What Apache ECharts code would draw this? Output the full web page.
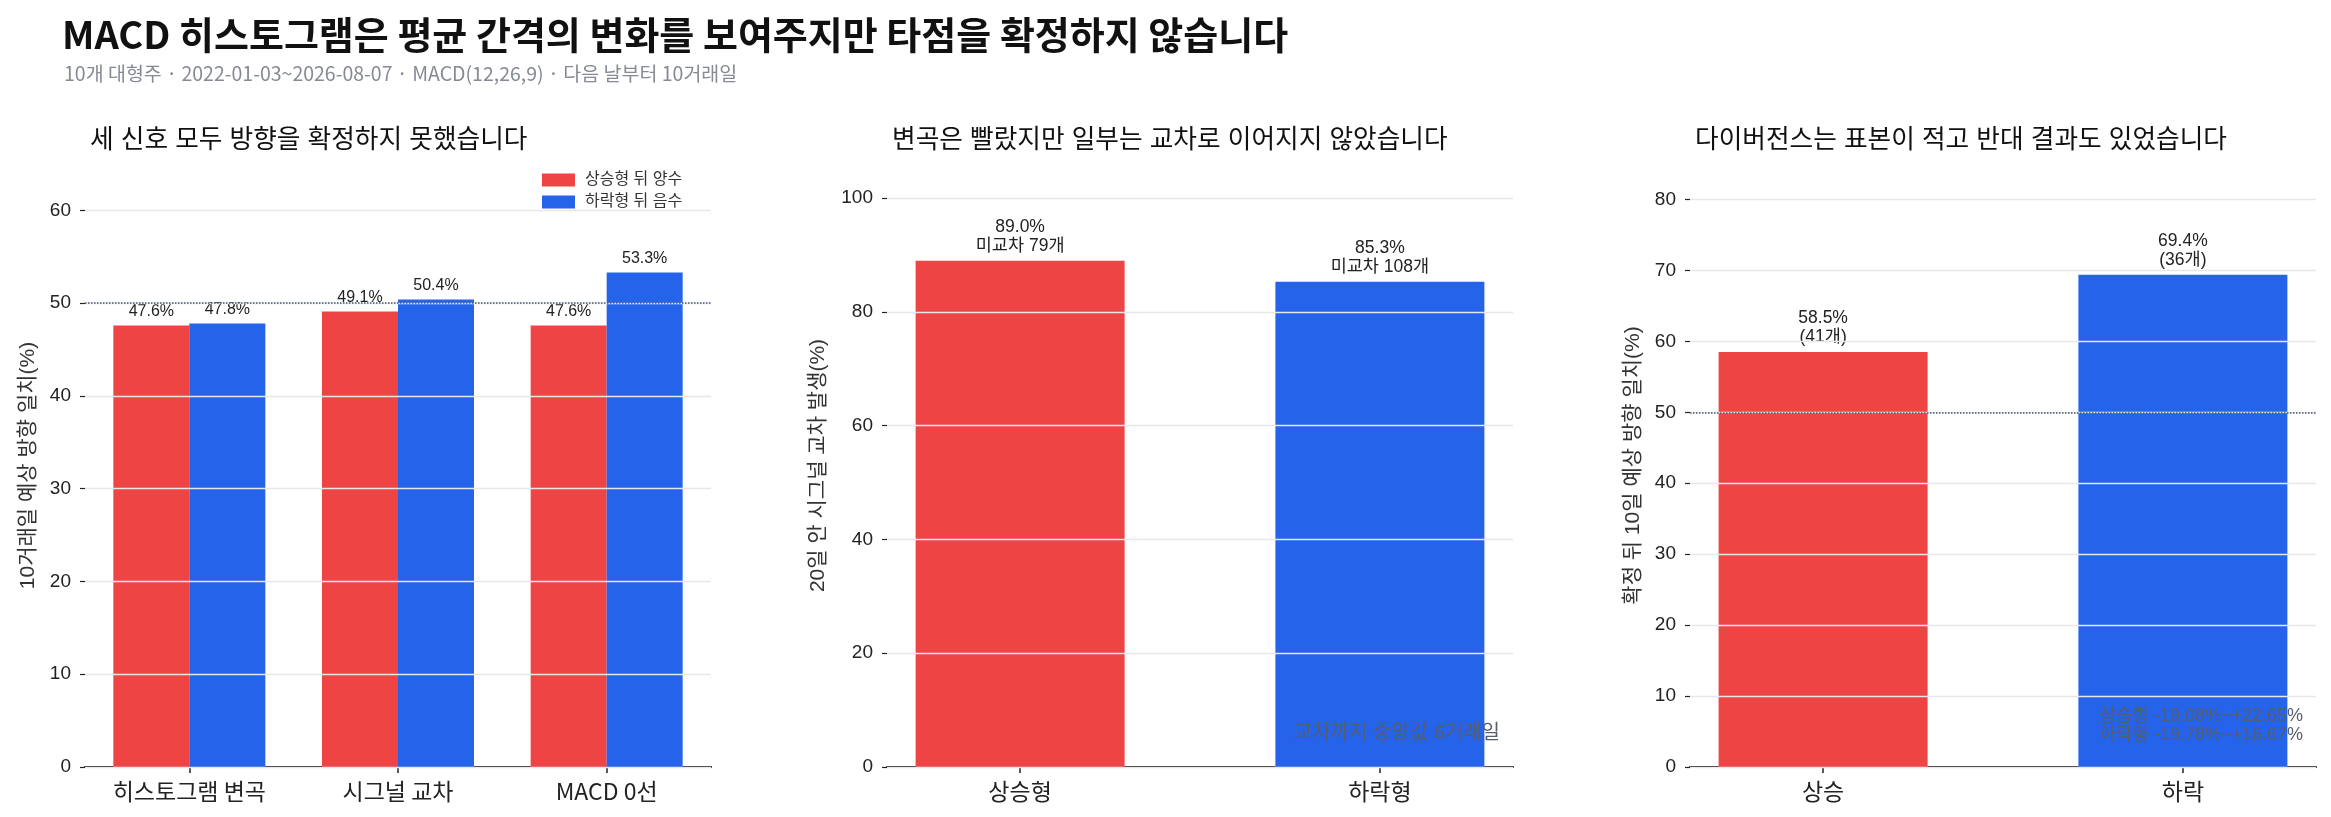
<!DOCTYPE html>
<html>
<head>
<meta charset="utf-8">
<script src="https://cdn.jsdelivr.net/npm/echarts@6/dist/echarts.min.js"></script>
<style>
html, body { margin: 0; padding: 0; background: #fff; }
#main { width: 2331px; height: 817px; }
</style>
</head>
<body>
<div id="main"></div>
<script>
// 패널 1: 신호별 10거래일 방향 일치율
var signalNames = ['히스토그램 변곡', '시그널 교차', 'MACD 0선'];
var upPositive = [47.6, 49.1, 47.6];
var downNegative = [47.8, 50.4, 53.3];

// 패널 2: 20일 안 시그널 교차 발생
var crossNames = ['상승형', '하락형'];
var crossRate = [89.0, 85.3];
var noCrossCount = [79, 108];

// 패널 3: 다이버전스 확정 뒤 10일
var divNames = ['상승', '하락'];
var divHitRate = [58.5, 69.4];
var divCount = [41, 36];

var ticks1 = [0, 10, 20, 30, 40, 50, 60];
var ticks2 = [0, 20, 40, 60, 80, 100];
var ticks3 = [0, 10, 20, 30, 40, 50, 60, 70, 80];

var RED = '#ef4444', BLUE = '#2563eb';
var FONT = "'Liberation Sans','Noto Sans CJK KR',sans-serif";
var NARROW = "'Liberation Sans Narrow','Noto Sans CJK KR',sans-serif";

var chart = echarts.init(document.getElementById('main'));

var panelLeft = [85, 887, 1690];
var panelW = 626;

function yAxisOf(idx, max, ticks, name, gap) {
    return {
        gridIndex: idx,
        type: 'value',
        min: 0,
        max: max,
        z: 3,
        name: name,
        nameLocation: 'middle',
        nameGap: gap,
        nameTextStyle: { fontFamily: FONT, fontSize: 21, color: '#333' },
        axisLine: { show: false, onZero: false },
        axisTick: { show: true, length: 5, customValues: ticks, lineStyle: { color: '#222', width: 1.2 } },
        axisLabel: { customValues: ticks, margin: 14, fontFamily: FONT, fontSize: 19, color: '#222' },
        splitLine: { show: true, lineStyle: { color: '#e6e6ec', width: 1.3 } }
    };
}

function valueXAxis(idx, names) {
    return {
        gridIndex: idx,
        type: 'value',
        min: -0.37,
        max: 1.37,
        axisLine: { show: true, onZero: false, lineStyle: { color: '#222', width: 2 } },
        axisTick: { show: true, length: 6, customValues: [0, 1], lineStyle: { color: '#222', width: 1.5 } },
        axisLabel: {
            customValues: [0, 1], margin: 13, fontFamily: NARROW, fontSize: 23, color: '#222',
            formatter: function (v) { return names[Math.round(v)]; }
        },
        splitLine: { show: false }
    };
}

var fiftyLine = {
    silent: true,
    symbol: 'none',
    label: { show: false },
    lineStyle: { type: 'dotted', color: '#4a5568', width: 1.5 },
    data: [{ yAxis: 50 }]
};

var option = {
    backgroundColor: '#fff',
    animation: false,
    title: [
        { text: 'MACD 히스토그램은 평균 간격의 변화를 보여주지만 타점을 확정하지 않습니다', left: 57, top: 11,
          textStyle: { fontFamily: NARROW, fontSize: 38, fontWeight: 'bold', color: '#111' } },
        { text: '10개 대형주 · 2022-01-03~2026-08-07 · MACD(12,26,9) · 다음 날부터 10거래일', left: 59, top: 59,
          textStyle: { fontFamily: NARROW, fontSize: 19.5, fontWeight: 'normal', color: '#858a94' } },
        { text: '세 신호 모두 방향을 확정하지 못했습니다', left: panelLeft[0], top: 123,
          textStyle: { fontFamily: FONT, fontSize: 25.7, fontWeight: 'normal', color: '#111' } },
        { text: '변곡은 빨랐지만 일부는 교차로 이어지지 않았습니다', left: panelLeft[1], top: 123,
          textStyle: { fontFamily: FONT, fontSize: 25.7, fontWeight: 'normal', color: '#111' } },
        { text: '다이버전스는 표본이 적고 반대 결과도 있었습니다', left: panelLeft[2], top: 123,
          textStyle: { fontFamily: FONT, fontSize: 25.7, fontWeight: 'normal', color: '#111' } }
    ],
    legend: {
        data: ['상승형 뒤 양수', '하락형 뒤 음수'],
        orient: 'vertical',
        left: 537,
        top: 167,
        icon: 'rect',
        itemWidth: 33,
        itemHeight: 13,
        itemGap: 6,
        textStyle: { fontFamily: FONT, fontSize: 16, color: '#333', padding: [0, 0, 0, 5] }
    },
    grid: [
        { left: panelLeft[0], width: panelW, top: 164, bottom: 50 },
        { left: panelLeft[1], width: panelW, top: 164, bottom: 50 },
        { left: panelLeft[2], width: panelW, top: 164, bottom: 50 }
    ],
    xAxis: [
        {
            gridIndex: 0,
            type: 'category',
            data: signalNames,
            axisLine: { show: true, lineStyle: { color: '#222', width: 2 } },
            axisTick: { show: true, alignWithLabel: true, length: 6, lineStyle: { color: '#222', width: 1.5 } },
            axisLabel: { margin: 13, fontFamily: NARROW, fontSize: 23, color: '#222' }
        },
        valueXAxis(1, crossNames),
        valueXAxis(2, divNames)
    ],
    yAxis: [
        yAxisOf(0, 65, ticks1, '10거래일 예상 방향 일치(%)', 46),
        yAxisOf(1, 106, ticks2, '20일 안 시그널 교차 발생(%)', 58),
        yAxisOf(2, 85, ticks3, '확정 뒤 10일 예상 방향 일치(%)', 46)
    ],
    series: [
        {
            name: '상승형 뒤 양수', type: 'bar', xAxisIndex: 0, yAxisIndex: 0,
            data: upPositive, barWidth: 76, barGap: '0%',
            itemStyle: { color: RED },
            label: { show: true, position: 'top', distance: 6, fontFamily: FONT, fontSize: 16, color: '#222',
                     formatter: function (p) { return p.value.toFixed(1) + '%'; } },
            markLine: fiftyLine
        },
        {
            name: '하락형 뒤 음수', type: 'bar', xAxisIndex: 0, yAxisIndex: 0,
            data: downNegative, barWidth: 76, barGap: '0%',
            itemStyle: { color: BLUE },
            label: { show: true, position: 'top', distance: 6, fontFamily: FONT, fontSize: 16, color: '#222',
                     formatter: function (p) { return p.value.toFixed(1) + '%'; } }
        },
        {
            type: 'bar', xAxisIndex: 1, yAxisIndex: 1, barWidth: 209,
            data: crossRate.map(function (v, i) { return [i, v]; }),
            itemStyle: { color: function (p) { return p.dataIndex === 0 ? RED : BLUE; } },
            label: { show: true, position: 'top', distance: 5, fontFamily: FONT, fontSize: 17.5, color: '#222', lineHeight: 19,
                     formatter: function (p) { return p.value[1].toFixed(1) + '%\n미교차 ' + noCrossCount[p.dataIndex] + '개'; } }
        },
        {
            type: 'bar', xAxisIndex: 2, yAxisIndex: 2, barWidth: 209,
            data: divHitRate.map(function (v, i) { return [i, v]; }),
            itemStyle: { color: function (p) { return p.dataIndex === 0 ? RED : BLUE; } },
            label: { show: true, position: 'top', distance: 5, fontFamily: FONT, fontSize: 17.5, color: '#222', lineHeight: 19,
                     formatter: function (p) { return p.value[1].toFixed(1) + '%\n(' + divCount[p.dataIndex] + '개)'; } },
            markLine: fiftyLine
        }
    ],
    graphic: [
        {
            type: 'text', right: 2331 - (panelLeft[1] + panelW - 13), bottom: 74, z: 10,
            style: { text: '교차까지 중앙값 6거래일', fill: '#565d6b', font: '20px ' + FONT, textAlign: 'right' }
        },
        {
            type: 'text', right: 2331 - (panelLeft[2] + panelW - 13), bottom: 72, z: 10,
            style: { text: '상승형 -19.08%~+22.65%\n하락형 -19.78%~+16.67%', fill: '#565d6b', font: '18px ' + FONT,
                     textAlign: 'right', lineHeight: 19 }
        }
    ]
};

chart.setOption(option);
</script>
</body>
</html>
